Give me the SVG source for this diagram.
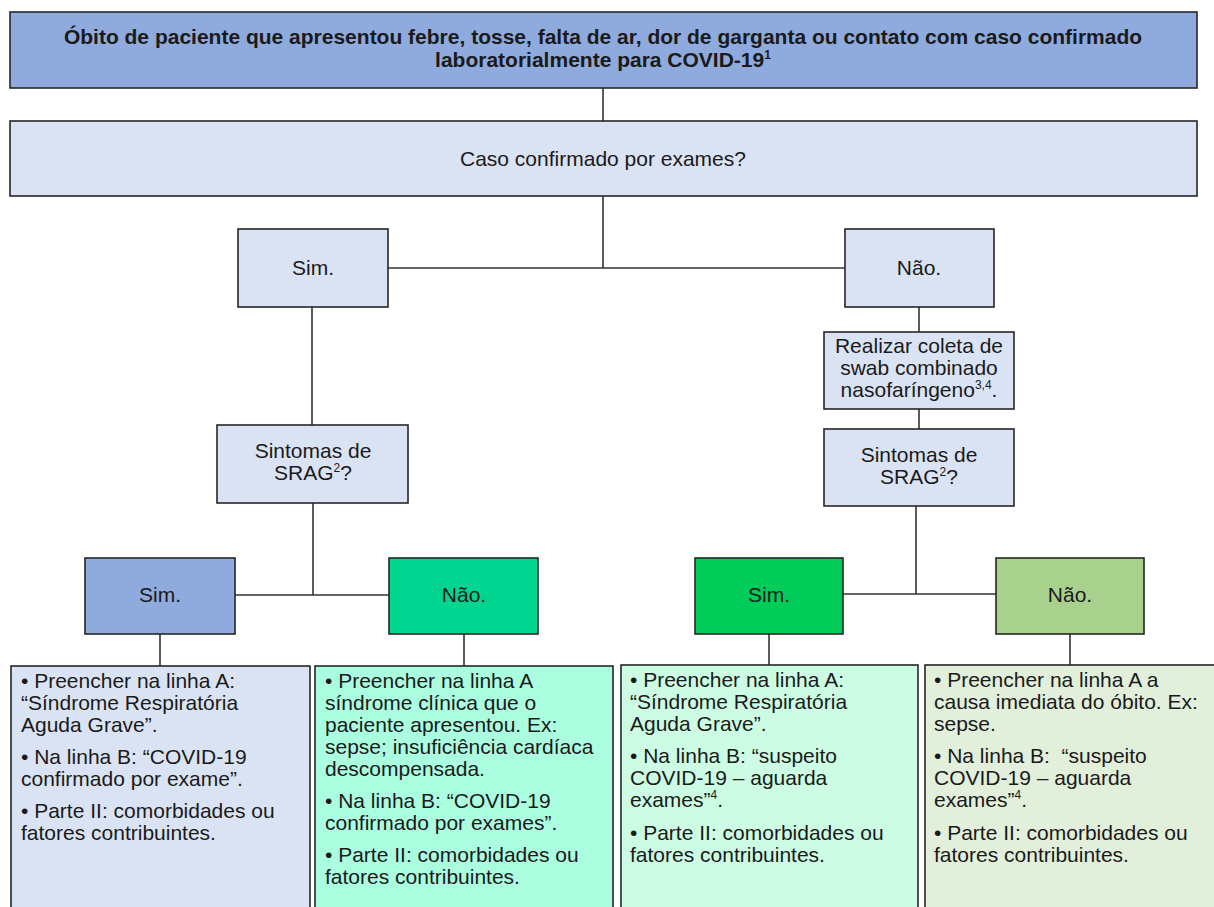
<svg xmlns="http://www.w3.org/2000/svg" width="1214" height="907" viewBox="0 0 1214 907">
<style>
text{font-family:"Liberation Sans",Arial,sans-serif;font-size:21px;fill:#1a1a1a}
.c{text-anchor:middle}
.b{font-weight:bold}
.n rect{stroke:#262626;stroke-width:1.6}
.con line{stroke:#333;stroke-width:1.6}
.sup{font-size:12px}
</style>
<rect x="0" y="0" width="1214" height="907" fill="#ffffff"/>
<g class="con">
<line x1="603" y1="88" x2="603" y2="121"/>
<line x1="603" y1="196" x2="603" y2="268"/>
<line x1="388" y1="268" x2="845" y2="268"/>
<line x1="312" y1="307" x2="312" y2="425"/>
<line x1="919" y1="307" x2="919" y2="332"/>
<line x1="919" y1="409" x2="919" y2="429"/>
<line x1="313" y1="503" x2="313" y2="595"/>
<line x1="235" y1="595" x2="389" y2="595"/>
<line x1="916" y1="506" x2="916" y2="594"/>
<line x1="843" y1="594" x2="996" y2="594"/>
<line x1="160" y1="634" x2="160" y2="666"/>
<line x1="464" y1="634" x2="464" y2="666"/>
<line x1="769" y1="634" x2="769" y2="665"/>
<line x1="1070" y1="634" x2="1070" y2="665"/>
</g>
<g id="n-obito" class="n">
<rect x="10" y="12" width="1187" height="76" fill="#8faadc"/>
<text class="c b" x="603" y="44">Óbito de paciente que apresentou febre, tosse, falta de ar, dor de garganta ou contato com caso confirmado</text>
<text class="c b" x="603" y="67">laboratorialmente para COVID-19<tspan class="sup" dy="-8">1</tspan></text>
</g>
<g id="n-caso" class="n">
<rect x="10" y="121" width="1187" height="75" fill="#dae3f3"/>
<text class="c" x="603" y="166">Caso confirmado por exames?</text>
</g>
<g id="n-sim1" class="n">
<rect x="238" y="229" width="150" height="78" fill="#dae3f3"/>
<text class="c" x="313" y="275">Sim.</text>
</g>
<g id="n-nao1" class="n">
<rect x="845" y="229" width="149" height="78" fill="#dae3f3"/>
<text class="c" x="919" y="275">Não.</text>
</g>
<g id="n-swab" class="n">
<rect x="824" y="332" width="190" height="77" fill="#dae3f3"/>
<text class="c" x="919" y="353">Realizar coleta de</text>
<text class="c" x="919" y="375">swab combinado</text>
<text class="c" x="919" y="397">nasofaríngeno<tspan class="sup" dy="-8">3,4</tspan><tspan dy="8">.</tspan></text>
</g>
<g id="n-srag1" class="n">
<rect x="217" y="425" width="191" height="78" fill="#dae3f3"/>
<text class="c" x="313" y="458">Sintomas de</text>
<text class="c" x="313" y="480">SRAG<tspan class="sup" dy="-8">2</tspan><tspan dy="8">?</tspan></text>
</g>
<g id="n-srag2" class="n">
<rect x="824" y="429" width="190" height="77" fill="#dae3f3"/>
<text class="c" x="919" y="462">Sintomas de</text>
<text class="c" x="919" y="484">SRAG<tspan class="sup" dy="-8">2</tspan><tspan dy="8">?</tspan></text>
</g>
<g id="n-sim2" class="n">
<rect x="85" y="558" width="150" height="76" fill="#8faadc"/>
<text class="c" x="160" y="602">Sim.</text>
</g>
<g id="n-nao2" class="n">
<rect x="389" y="558" width="149" height="76" fill="#00d68f"/>
<text class="c" x="464" y="602">Não.</text>
</g>
<g id="n-sim3" class="n">
<rect x="695" y="558" width="148" height="76" fill="#00cc5a"/>
<text class="c" x="769" y="602">Sim.</text>
</g>
<g id="n-nao3" class="n">
<rect x="996" y="558" width="148" height="76" fill="#a9d18e"/>
<text class="c" x="1070" y="602">Não.</text>
</g>
<g id="n-res1" class="n">
<rect x="11" y="666" width="299" height="260" fill="#dae3f3"/>
<text x="21" y="688">• Preencher na linha A:</text>
<text x="21" y="710">“Síndrome Respiratória</text>
<text x="21" y="732">Aguda Grave”.</text>
<text x="21" y="764">• Na linha B: “COVID-19</text>
<text x="21" y="786">confirmado por exame”.</text>
<text x="21" y="818">• Parte II: comorbidades ou</text>
<text x="21" y="840">fatores contribuintes.</text>
</g>
<g id="n-res2" class="n">
<rect x="315" y="666" width="298" height="260" fill="#abfde0"/>
<text x="325" y="688">• Preencher na linha A</text>
<text x="325" y="710">síndrome clínica que o</text>
<text x="325" y="732">paciente apresentou. Ex:</text>
<text x="325" y="754">sepse; insuficiência cardíaca</text>
<text x="325" y="776">descompensada.</text>
<text x="325" y="808">• Na linha B: “COVID-19</text>
<text x="325" y="830">confirmado por exames”.</text>
<text x="325" y="862">• Parte II: comorbidades ou</text>
<text x="325" y="884">fatores contribuintes.</text>
</g>
<g id="n-res3" class="n">
<rect x="621" y="665" width="297" height="260" fill="#ccfde4"/>
<text x="630" y="687">• Preencher na linha A:</text>
<text x="630" y="709">“Síndrome Respiratória</text>
<text x="630" y="731">Aguda Grave”.</text>
<text x="630" y="763">• Na linha B: “suspeito</text>
<text x="630" y="785">COVID-19 – aguarda</text>
<text x="630" y="807">exames”<tspan class="sup" dy="-8">4</tspan><tspan dy="8">.</tspan></text>
<text x="630" y="840">• Parte II: comorbidades ou</text>
<text x="630" y="862">fatores contribuintes.</text>
</g>
<g id="n-res4" class="n">
<rect x="925" y="665" width="300" height="260" fill="#e2efda"/>
<text x="934" y="687">• Preencher na linha A a</text>
<text x="934" y="709">causa imediata do óbito. Ex:</text>
<text x="934" y="731">sepse.</text>
<text x="934" y="763" xml:space="preserve">• Na linha B:  “suspeito</text>
<text x="934" y="785">COVID-19 – aguarda</text>
<text x="934" y="807">exames”<tspan class="sup" dy="-8">4</tspan><tspan dy="8">.</tspan></text>
<text x="934" y="840">• Parte II: comorbidades ou</text>
<text x="934" y="862">fatores contribuintes.</text>
</g>
</svg>
